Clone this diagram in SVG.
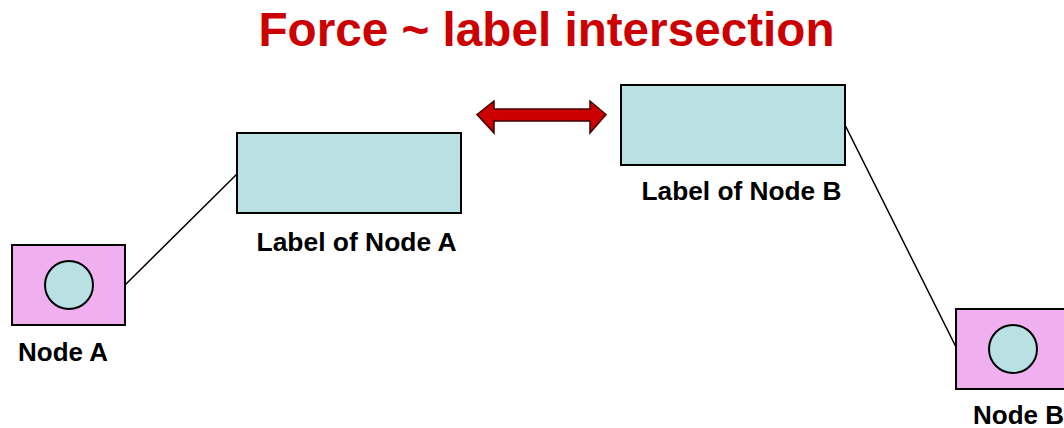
<svg xmlns="http://www.w3.org/2000/svg" width="1064" height="428" viewBox="0 0 1064 428">
<style>
.lbl{font-family:"Liberation Sans",Arial,sans-serif;font-weight:bold;font-size:26px;fill:#000}
.node{fill:#f0b0f0;stroke:#000;stroke-width:2}
.circ{fill:#b9e0e2;stroke:#000;stroke-width:2}
.lrect{fill:#b9e0e2;stroke:#000;stroke-width:2}
.conn{stroke:#000;stroke-width:1.5;fill:none}
</style>
<rect width="1064" height="428" fill="#fff"/>
<text x="546.5" y="46" text-anchor="middle" textLength="576" lengthAdjust="spacingAndGlyphs" style="font-family:'Liberation Sans',Arial,sans-serif;font-weight:bold;font-size:47.5px;fill:#cc0000">Force ~ label intersection</text>
<g id="connectors">
<line class="conn" x1="125" y1="285" x2="237" y2="174"/>
<line class="conn" x1="845" y1="125" x2="956" y2="347"/>
</g>
<g id="force-arrow">
<polygon points="477,114.5 494,101 494,109 590,109 590,101 606,114.5 590,133 590,121 494,121 494,133" fill="#cc0000" stroke="#400000" stroke-width="1.5" stroke-linejoin="miter"/>
</g>
<g id="labelA">
<rect class="lrect" x="237" y="133" width="224" height="80"/>
<text class="lbl" x="356.5" y="251" text-anchor="middle" textLength="200" lengthAdjust="spacingAndGlyphs">Label of Node A</text>
</g>
<g id="labelB">
<rect class="lrect" x="621" y="85" width="224" height="80"/>
<text class="lbl" x="741.5" y="200" text-anchor="middle" textLength="200" lengthAdjust="spacingAndGlyphs">Label of Node B</text>
</g>
<g id="nodeA">
<rect class="node" x="12" y="245" width="113" height="80"/>
<circle class="circ" cx="69" cy="285" r="24"/>
<text class="lbl" x="63" y="361" text-anchor="middle" textLength="90" lengthAdjust="spacingAndGlyphs">Node A</text>
</g>
<g id="nodeB">
<rect class="node" x="956" y="309" width="113" height="80"/>
<circle class="circ" cx="1013" cy="349" r="24"/>
<text class="lbl" x="1018.5" y="424" text-anchor="middle" textLength="91" lengthAdjust="spacingAndGlyphs">Node B</text>
</g>
</svg>
